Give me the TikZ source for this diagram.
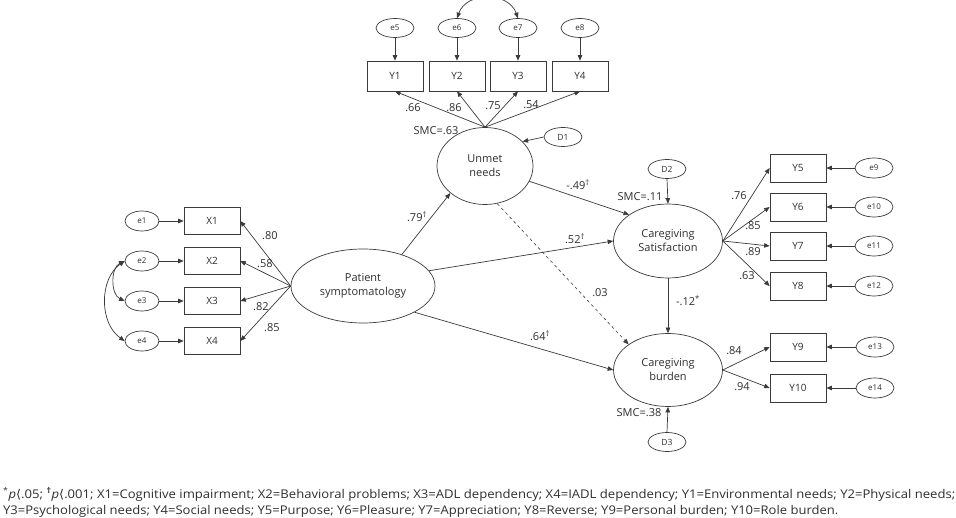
\documentclass[tikz,border=0pt]{standalone}
\usepackage{fontspec}
\usepackage{graphicx}
\setmainfont{Open Sans}
\newfontfamily\djfont{DejaVu Sans}
\newcommand{\ltang}{{\djfont ⟨}}
\usetikzlibrary{shapes.geometric,arrows.meta}
\definecolor{linec}{HTML}{3A3A3A}
\definecolor{txt}{HTML}{2E2E2E}
\begin{document}
\begin{tikzpicture}[x=1pt,y=-1pt,
  every node/.style={text=txt},
  lat/.style={ellipse,draw=linec,line width=0.7pt,inner sep=0pt,align=center,font=\fontsize{11}{14}\selectfont},
  obs/.style={rectangle,draw=linec,line width=0.7pt,minimum width=56pt,minimum height=28pt,inner sep=0pt,font=\fontsize{10}{12}\selectfont},
  err/.style={ellipse,draw=linec,line width=0.7pt,minimum width=38pt,minimum height=20pt,inner sep=0pt,font=\fontsize{8}{9}\selectfont},
  conn/.style={draw=linec,line width=0.7pt,-{Triangle[length=5.5pt,width=4.5pt]}},
  cov/.style={draw=linec,line width=0.7pt,{Triangle[length=5.5pt,width=4.5pt]}-{Triangle[length=5.5pt,width=4.5pt]}},
  lab/.style={font=\fontsize{11}{13}\selectfont,inner sep=0pt},
  note/.style={anchor=base west,inner sep=0pt,font=\fontsize{12}{14}\selectfont}
]
\useasboundingbox (0,0) rectangle (956,518);

% latent variables
\node[lat,minimum width=144pt,minimum height=74pt] (pat) at (363,286) {Patient\\symptomatology};
\node[lat,minimum width=96pt,minimum height=77pt] (un) at (485,166) {Unmet\\needs};
\node[lat,minimum width=109pt,minimum height=74pt] (sat) at (668,241) {Caregiving\\Satisfaction};
\node[lat,minimum width=109pt,minimum height=73pt] (bur) at (668,370) {Caregiving\\burden};

% X indicators
\node[obs,minimum height=27pt] (x1) at (212,221) {X1};
\node[obs,minimum height=27pt] (x2) at (212,261) {X2};
\node[obs,minimum height=27pt] (x3) at (212,301) {X3};
\node[obs,minimum height=27pt] (x4) at (212,341) {X4};
\node[err,minimum width=34pt] (e1) at (142,221) {e1};
\node[err,minimum width=34pt] (e2) at (142,261) {e2};
\node[err,minimum width=34pt] (e3) at (142,301) {e3};
\node[err,minimum width=34pt] (e4) at (142,341) {e4};

% Y1-Y4
\node[obs,minimum height=30pt] (y1) at (395,76) {Y1};
\node[obs,minimum height=30pt] (y2) at (457,76) {Y2};
\node[obs,minimum height=30pt] (y3) at (518,76) {Y3};
\node[obs,minimum height=30pt] (y4) at (580,76) {Y4};
\node[err,minimum height=19pt] (e5) at (395,28) {e5};
\node[err,minimum height=19pt] (e6) at (457,28) {e6};
\node[err,minimum height=19pt] (e7) at (518,28) {e7};
\node[err,minimum height=19pt] (e8) at (580,28) {e8};

% Y5-Y8
\node[obs] (y5) at (798,168) {Y5};
\node[obs] (y6) at (798,207) {Y6};
\node[obs] (y7) at (798,246) {Y7};
\node[obs] (y8) at (798,286) {Y8};
\node[err] (e9) at (874,168) {e9};
\node[err] (e10) at (874,207) {e10};
\node[err] (e11) at (874,246) {e11};
\node[err] (e12) at (874,286) {e12};

% Y9-Y10
\node[obs] (y9) at (798,347) {Y9};
\node[obs] (y10) at (798,388) {Y10};
\node[err] (e13) at (875,347) {e13};
\node[err] (e14) at (875,388) {e14};

% disturbances
\node[err,minimum height=19pt,font=\fontsize{8.5}{9}\selectfont] (d1) at (563,137) {D1};
\node[err,minimum height=19pt,font=\fontsize{8.5}{9}\selectfont] (d2) at (667,169) {D2};
\node[err,minimum height=19pt,font=\fontsize{8.5}{9}\selectfont] (d3) at (667,442) {D3};

% error arrows
\foreach \e/\x in {e1/x1,e2/x2,e3/x3,e4/x4}{\draw[conn] (\e) -- (\x);}
\foreach \e/\y in {e5/y1,e6/y2,e7/y3,e8/y4}{\draw[conn] (\e) -- (\y);}
\foreach \e/\y in {e9/y5,e10/y6,e11/y7,e12/y8,e13/y9,e14/y10}{\draw[conn] (\e) -- (\y);}

% covariances
\draw[cov] (e2.west) to[out=205,in=155] (e3.west);
\draw[cov] (e2.west) to[out=215,in=145] (e4.west);
\draw[cov] (e6.north) to[out=70,in=110,looseness=1.2] (e7.north);

% loadings
\foreach \x in {x1,x2,x3,x4}{\draw[conn] (pat.west) -- (\x.east);}
\foreach \y in {y1,y2,y3,y4}{\draw[conn] (un.north) -- (\y.south);}
\foreach \y in {y5,y6,y7,y8}{\draw[conn] (sat.east) -- (\y.west);}
\foreach \y in {y9,y10}{\draw[conn] (bur.east) -- (\y.west);}

% structural paths
\draw[conn] (pat.39) -- (un.218);
\draw[conn] (un.341) -- (sat.146);
\draw[conn] (pat.13) -- (sat.west);
\draw[conn] (pat.333) -- (bur.west);
\draw[conn,dashed,line width=0.6pt] (un.288) -- (bur.147);
\draw[conn] (sat.south) -- (bur.north);
\draw[conn] (d1.west) -- (un.33);
\draw[conn] (d2.south) -- (sat.north);
\draw[conn] (d3.north) -- (bur.south);

% labels
\node[lab] (l80) at (270,236) {.80};
\node[lab] (l58) at (265,264) {.58};
\node[lab] (l82) at (261,307) {.82};
\node[lab] (l85) at (272,328) {.85};
\node[lab] (l66) at (413,108) {.66};
\node[lab] (l86) at (454,108) {.86};
\node[lab] (l75) at (493,106) {.75};
\node[lab] (l54) at (531,105) {.54};
\node[lab] (smc1) at (436,131) {SMC=.63};
\node[lab] (smc2) at (640,197) {SMC=.11};
\node[lab] (smc3) at (639,413) {SMC=.38};
\node[lab] (l79) at (417,217) {.79\textsuperscript{†}};
\node[lab] (l49) at (578,185) {-.49\textsuperscript{†}};
\node[lab] (l52) at (575,239) {.52\textsuperscript{†}};
\node[lab] (l64) at (540,336) {.64\textsuperscript{†}};
\node[lab] (l03) at (600,293) {.03};
\node[lab] (l12) at (688,301) {-.12\textsuperscript{*}};
\node[lab] (l76) at (739,196) {.76};
\node[lab] (l85b) at (753,226) {.85};
\node[lab] (l89) at (753,252) {.89};
\node[lab] (l63) at (747,276) {.63};
\node[lab] (l84) at (734,351) {.84};
\node[lab] (l94) at (742,387) {.94};

% footnote
\node[note] (n1) at (3,498) {\resizebox{952pt}{\height}{\textsuperscript{*}\textit{p}\ltang.05; \textsuperscript{\textbf{†}}\textit{p}\ltang.001; X1=Cognitive impairment; X2=Behavioral problems; X3=ADL dependency; X4=IADL dependency; Y1=Environmental needs; Y2=Physical needs;}};
\node[note] (n2) at (3,514) {\resizebox{835pt}{\height}{Y3=Psychological needs; Y4=Social needs; Y5=Purpose; Y6=Pleasure; Y7=Appreciation; Y8=Reverse; Y9=Personal burden; Y10=Role burden.}};
\end{tikzpicture}
\end{document}
